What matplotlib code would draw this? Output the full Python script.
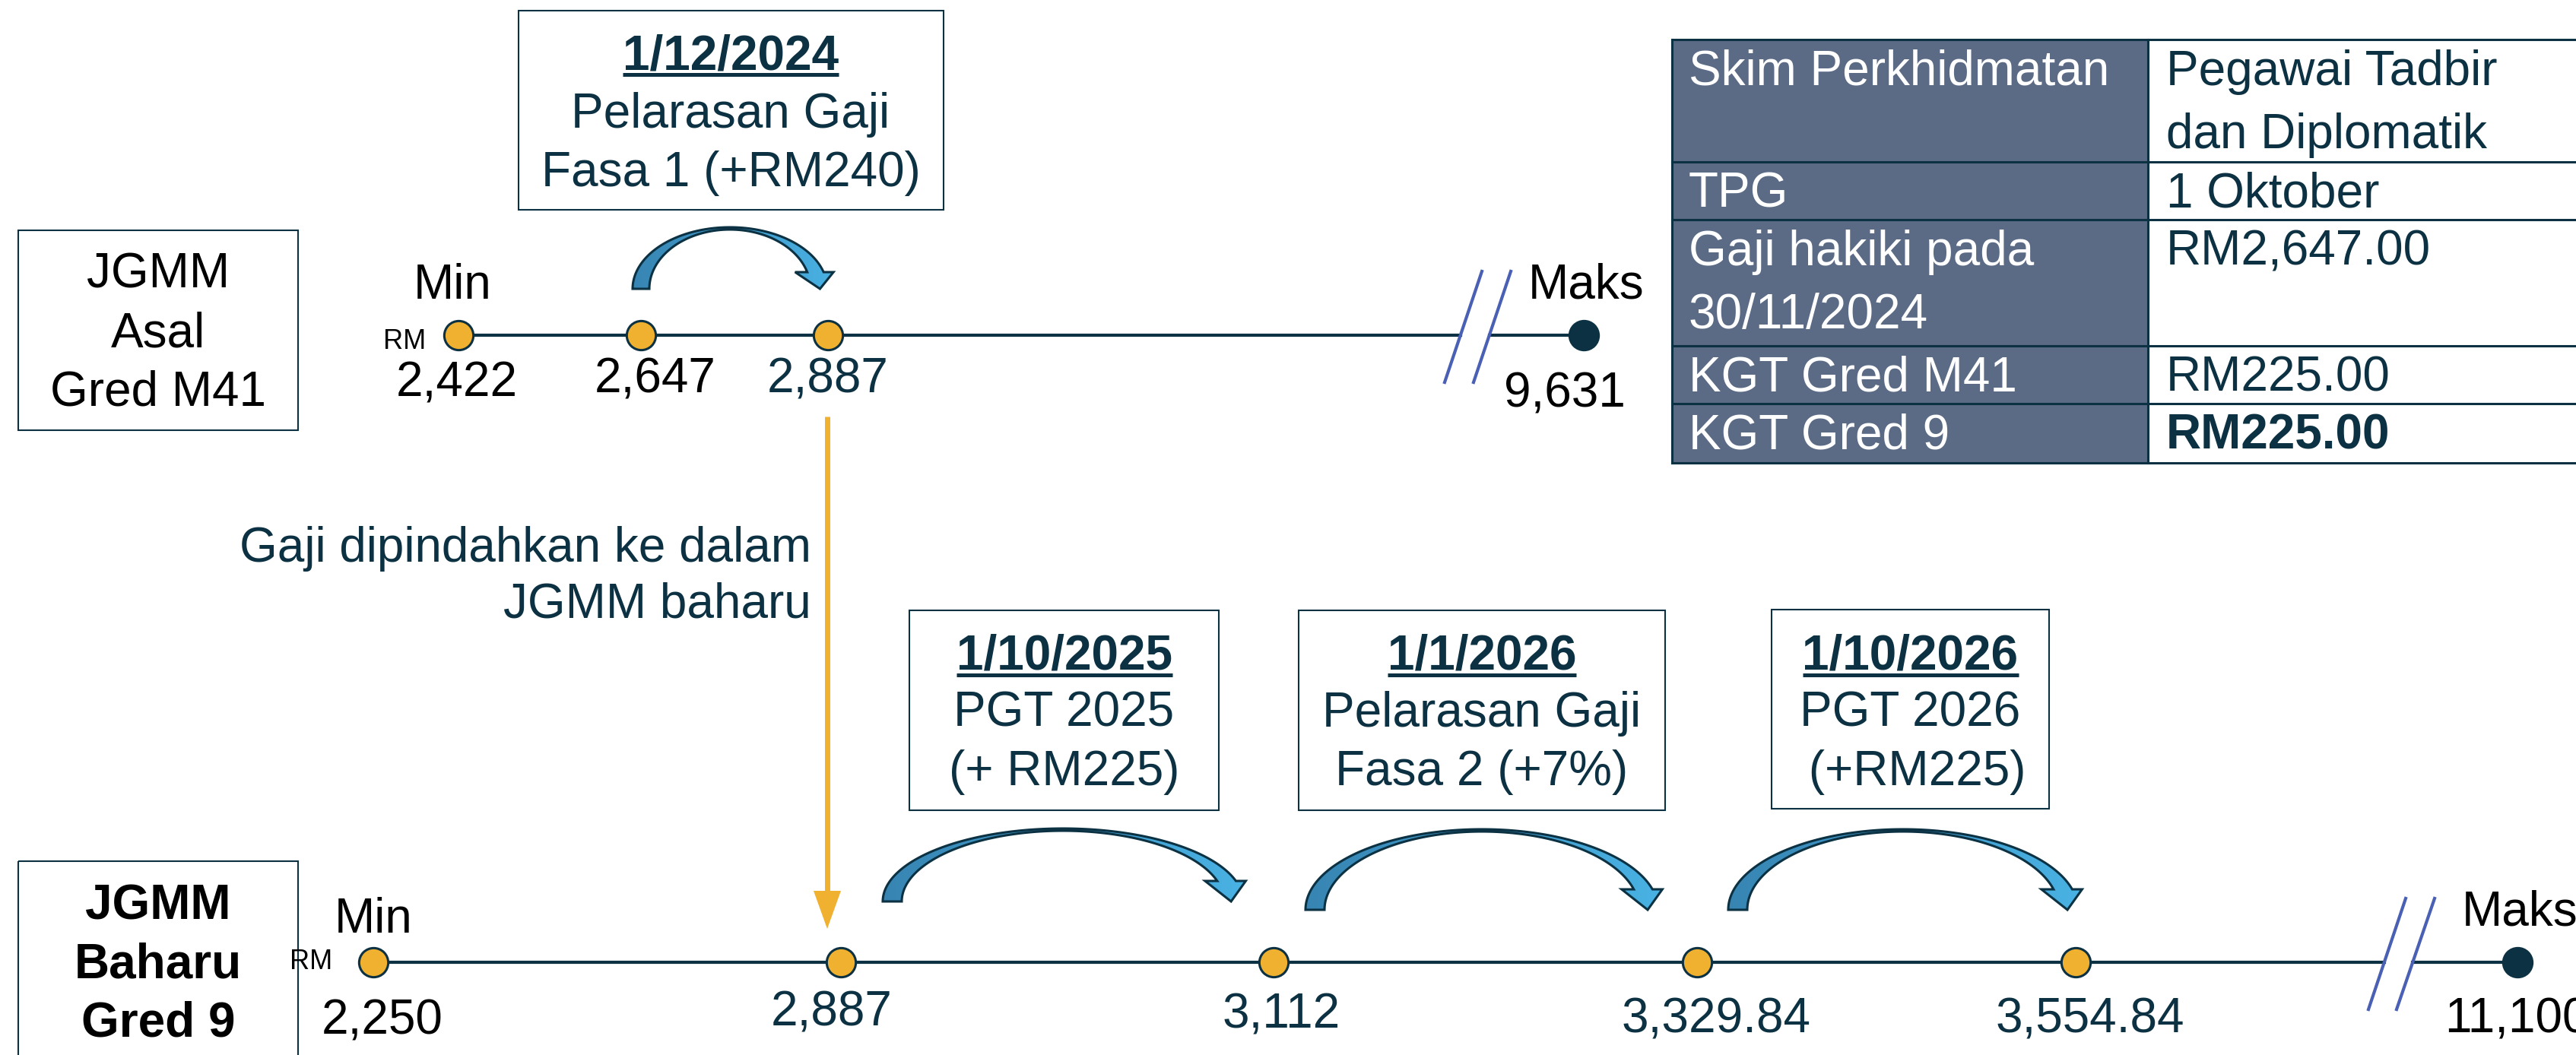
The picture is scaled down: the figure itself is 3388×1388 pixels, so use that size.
import numpy as np
import matplotlib.pyplot as plt
from matplotlib.patches import Rectangle, Polygon
from matplotlib.colors import LinearSegmentedColormap

plt.rcParams['font.family'] = ['Liberation Sans', 'DejaVu Sans']

W, H = 3388, 1388
NAVY = '#0b3142'
ORANGE = '#f0b030'
SLATE = '#5b6a85'
BREAK = '#4a60b4'
FS = 46
arrow_cmap = LinearSegmentedColormap.from_list('arr', ['#3784b2', '#4ab4e6'])

# ── Data ──────────────────────────────────────────────────────────────────────
old_labels = ['2,422', '2,647', '2,887']
old_max = '9,631'
new_labels = ['2,250', '2,887', '3,112', '3,329.84', '3,554.84']
new_max = '11,100'

top_event = ['1/12/2024', 'Pelarasan Gaji', 'Fasa 1 (+RM240)']
event_dates = ['1/10/2025', '1/1/2026', '1/10/2026']
event_line2 = ['PGT 2025', 'Pelarasan Gaji', 'PGT 2026']
event_line3 = ['(+ RM225)', 'Fasa 2 (+7%)', ' (+RM225)']

table_keys = [['Skim Perkhidmatan'], ['TPG'], ['Gaji hakiki pada', '30/11/2024'],
              ['KGT Gred M41'], ['KGT Gred 9']]
table_vals = [['Pegawai Tadbir', 'dan Diplomatik'], ['1 Oktober'], ['RM2,647.00'],
              ['RM225.00'], ['RM225.00']]

# ── Layout (pixel positions) ──────────────────────────────────────────────────
old_y, new_y = 441, 1266
old_x = [603, 843, 1089]
old_max_x = 2083
new_x = [491, 1106, 1675, 2232, 2730]
new_max_x = 3311
old_lab_x = [601, 862, 1089]
old_lab_y = [499, 494, 494]
old_lab_c = ['black', 'black', NAVY]
new_lab_x = [503, 1094, 1685, 2257, 2749]
new_lab_y = [1338, 1327, 1330, 1336, 1336]
new_lab_c = ['black', NAVY, NAVY, NAVY, NAVY]

fig = plt.figure(figsize=(W / 100, H / 100), dpi=100)
ax = fig.add_axes([0, 0, 1, 1])
ax.axis('off')
ax.set_xlim(0, W)
ax.set_ylim(H, 0)

underlines = []


def put(x, y, s, size=FS, color='black', weight='normal', ha='center'):
    em = size * 100 / 72
    return ax.text(x, y + 0.358 * em, s, fontsize=size, color=color,
                   fontweight=weight, ha=ha, va='baseline')


def box(x0, y0, x1, y1):
    ax.add_patch(Rectangle((x0, y0), x1 - x0, y1 - y0, fill=False,
                           edgecolor=NAVY, lw=1.5))


def curved_arrow(cx, yb, rx, ry, w, head_y, thin=3):
    t_end = np.arcsin((yb - head_y) / ry)
    t = np.linspace(np.pi, t_end, 120)
    outer = np.c_[cx + rx * np.cos(t), yb - ry * np.sin(t)]
    ry_i = ry - thin
    t_end_i = np.arcsin((yb - head_y) / ry_i)
    ti = np.linspace(t_end_i, np.pi, 120)
    inner = np.c_[cx + (rx - w) * np.cos(ti), yb - ry_i * np.sin(ti)]
    xo, xi = outer[-1, 0], inner[0, 0]
    head = np.array([[xo + 13, head_y], [(xo + xi) / 2 + 6, yb], [xi - 16, head_y]])
    pts = np.vstack([outer, head, inner])
    poly = Polygon(pts, closed=True, facecolor='none', edgecolor=NAVY, lw=2.2, zorder=3)
    ax.add_patch(poly)
    grad = np.linspace(0, 1, 256).reshape(1, -1)
    im = ax.imshow(grad, cmap=arrow_cmap, aspect='auto', zorder=2,
                   extent=(cx - rx - 5, cx + rx + 25, yb + 5, yb - ry - 5))
    im.set_clip_path(poly)


def timeline(y, xs, xmax, brk, labels, lab_x, lab_y, lab_c, max_label, rm_xy, min_xy):
    b1, b2 = brk
    cross1 = b1[0][0] + (b1[0][1] - y) / (b1[0][1] - b1[1][1]) * (b1[1][0] - b1[0][0])
    cross2 = b2[0][0] + (b2[0][1] - y) / (b2[0][1] - b2[1][1]) * (b2[1][0] - b2[0][0])
    ax.plot([xs[0], cross1], [y, y], color=NAVY, lw=3, zorder=1)
    ax.plot([cross2, xmax], [y, y], color=NAVY, lw=3, zorder=1)
    for seg in brk:
        ax.plot([seg[0][0], seg[1][0]], [seg[0][1], seg[1][1]], color=BREAK, lw=3)
    ax.scatter(xs, [y] * len(xs), s=760, color=ORANGE, edgecolor=NAVY, lw=2.2, zorder=4)
    ax.scatter([xmax], [y], s=760, color=NAVY, edgecolor=NAVY, lw=2.2, zorder=4)
    for lx, ly, s, c in zip(lab_x, lab_y, labels, lab_c):
        put(lx, ly, s, color=c)
    put(rm_xy[0], rm_xy[1], 'RM', size=26)
    put(min_xy[0], min_xy[1], 'Min')
    put(xmax - 73, y - 71, 'Maks', ha='left')
    put(max_label[1], y + max_label[2], max_label[0], ha=max_label[3])


# ── Top: JGMM Asal ────────────────────────────────────────────────────────────
box(24, 303, 392, 566)
for yy, s in zip([356, 434, 511], ['JGMM', 'Asal', 'Gred M41']):
    put(208, yy, s)

timeline(old_y, old_x, old_max_x,
         [[(1900, 503), (1949, 357)], [(1938, 503), (1987, 357)]],
         old_labels, old_lab_x, old_lab_y, old_lab_c,
         (old_max, 2058, 72, 'center'), (532, 446), (595, 370))

box(682, 14, 1241, 276)
t = put(961, 69, top_event[0], color=NAVY, weight='bold')
underlines.append((t, 98))
put(961, 145, top_event[1], color=NAVY)
put(961, 222, top_event[2], color=NAVY)
curved_arrow(960, 380, 128, 81, 22, 358)

# ── Table ─────────────────────────────────────────────────────────────────────
row_lines = [52, 213, 289, 455, 531, 609]
tx0, tdiv, tx1 = 2199, 2825, 3400
ax.add_patch(Rectangle((tx0, row_lines[0]), tdiv - tx0, row_lines[-1] - row_lines[0],
                       facecolor=SLATE, edgecolor='none'))
for yy in row_lines:
    ax.plot([tx0, tx1], [yy, yy], color=NAVY, lw=2.2)
ax.plot([tx0, tx0], [row_lines[0], row_lines[-1]], color=NAVY, lw=2.2)
ax.plot([tdiv, tdiv], [row_lines[0], row_lines[-1]], color=NAVY, lw=2.2)
for i, (keys, vals) in enumerate(zip(table_keys, table_vals)):
    top = row_lines[i]
    for j, s in enumerate(keys):
        put(2221, top + 37 + 83 * j, s, color='white', ha='left')
    for j, s in enumerate(vals):
        put(2849, top + 37 + 83 * j, s, color=NAVY, ha='left',
            weight='bold' if i == len(table_keys) - 1 else 'normal')

# ── Transfer arrow ────────────────────────────────────────────────────────────
ax.plot([1088, 1088], [548, 1176], color=ORANGE, lw=5, solid_capstyle='butt')
ax.fill([1070, 1106, 1088], [1172, 1172, 1222], color=ORANGE, lw=0)
put(1067, 716, 'Gaji dipindahkan ke dalam', color=NAVY, ha='right')
put(1067, 790, 'JGMM baharu', color=NAVY, ha='right')

# ── Bottom: JGMM Baharu ───────────────────────────────────────────────────────
box(24, 1133, 392, 1420)
for yy, s in zip([1187, 1264, 1341], ['JGMM', 'Baharu', 'Gred 9']):
    put(208, yy, s, weight='bold')

timeline(new_y, new_x, new_max_x,
         [[(3115, 1328), (3164, 1182)], [(3152, 1328), (3202, 1182)]],
         new_labels, new_lab_x, new_lab_y, new_lab_c,
         (new_max, 3215, 70, 'left'), (409, 1262), (491, 1204))

ev_boxes = [(1196, 803, 1603, 1066), (1708, 803, 2190, 1066), (2330, 802, 2695, 1064)]
ev_arrows = [(1398, 1186, 237, 96), (1949, 1197, 232, 106), (2503, 1197, 230, 106)]
for (x0, y0, x1, y1), d, l2, l3, (acx, ayb, arx, ary) in zip(
        ev_boxes, event_dates, event_line2, event_line3, ev_arrows):
    cx = (x0 + x1) / 2
    t = put(cx, 858, d, color=NAVY, weight='bold')
    underlines.append((t, 888))
    put(cx, 933, l2, color=NAVY)
    put(cx, 1010, l3, color=NAVY)
    box(x0, y0, x1, y1)
    curved_arrow(acx, ayb, arx, ary, 25, ayb - 27)

# final limits, then underline the dates using their rendered extents
ax.set_xlim(0, W)
ax.set_ylim(H, 0)
renderer = fig.canvas.get_renderer()
for t, uy in underlines:
    bb = t.get_window_extent(renderer=renderer)
    ax.plot([bb.x0, bb.x1], [uy, uy], color=NAVY, lw=3.6, solid_capstyle='butt')
ax.set_xlim(0, W)
ax.set_ylim(H, 0)
fig.savefig('out.png', dpi=100)
